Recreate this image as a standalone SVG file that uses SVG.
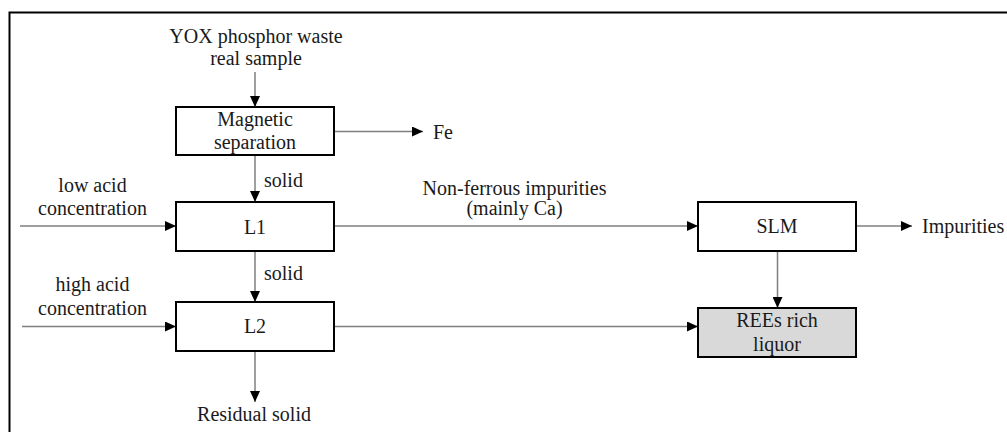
<svg xmlns="http://www.w3.org/2000/svg" width="1007" height="432" viewBox="0 0 1007 432">
<style>
text{font-family:'Liberation Serif','Times New Roman',serif;font-size:20px;fill:#1a1a1a}
.c{text-anchor:middle}
.box{fill:#fff;stroke:#000;stroke-width:2}
.con{stroke:#7f7f7f;stroke-width:1.5;fill:none;marker-end:url(#ah)}
</style>
<defs>
<marker id="ah" markerWidth="12" markerHeight="10" refX="11" refY="5" orient="auto" markerUnits="userSpaceOnUse">
<path d="M0,0 L11,5 L0,10 Z" fill="#000"/>
</marker>
</defs>
<rect x="0" y="0" width="1007" height="432" fill="#fff"/>
<path d="M9.5,440 V12.5 H1010" fill="none" stroke="#000" stroke-width="2"/>
<g id="connectors">
<line class="con" x1="255" y1="72" x2="255" y2="107"/>
<line class="con" x1="334" y1="131.5" x2="423" y2="131.5"/>
<line class="con" x1="255" y1="155" x2="255" y2="202"/>
<line class="con" x1="20" y1="226" x2="176" y2="226"/>
<line class="con" x1="334" y1="226" x2="698" y2="226"/>
<line class="con" x1="255" y1="251" x2="255" y2="302"/>
<line class="con" x1="22" y1="326.5" x2="176" y2="326.5"/>
<line class="con" x1="334" y1="326.5" x2="698" y2="326.5"/>
<line class="con" x1="255" y1="351" x2="255" y2="402"/>
<line class="con" x1="856" y1="226" x2="912" y2="226"/>
<line class="con" x1="777.5" y1="251" x2="777.5" y2="308"/>
</g>
<g id="input">
<text class="c" x="256" y="43">YOX phosphor waste</text>
<text class="c" x="256" y="65">real sample</text>
</g>
<g id="magnetic">
<rect class="box" x="176" y="107" width="158" height="48"/>
<text class="c" x="255" y="126">Magnetic</text>
<text class="c" x="255" y="149">separation</text>
</g>
<g id="fe"><text x="433" y="139">Fe</text></g>
<g id="solid1"><text x="264" y="187">solid</text></g>
<g id="lowacid">
<text class="c" x="92.5" y="192">low acid</text>
<text class="c" x="92.5" y="215">concentration</text>
</g>
<g id="L1">
<rect class="box" x="176" y="202" width="158" height="49"/>
<text class="c" x="255" y="234">L1</text>
</g>
<g id="nonferrous">
<text class="c" x="514.5" y="195">Non-ferrous impurities</text>
<text class="c" x="514.5" y="215">(mainly Ca)</text>
</g>
<g id="solid2"><text x="264" y="280">solid</text></g>
<g id="highacid">
<text class="c" x="92.5" y="291">high acid</text>
<text class="c" x="92.5" y="315">concentration</text>
</g>
<g id="L2">
<rect class="box" x="176" y="302" width="158" height="49"/>
<text class="c" x="255" y="333">L2</text>
</g>
<g id="residual"><text class="c" x="254" y="421">Residual solid</text></g>
<g id="SLM">
<rect class="box" x="698" y="202" width="158" height="49"/>
<text class="c" x="777" y="233">SLM</text>
</g>
<g id="impurities"><text x="922" y="233">Impurities</text></g>
<g id="REEs">
<rect class="box" x="698" y="308" width="158" height="49" style="fill:#d9d9d9"/>
<text class="c" x="777" y="327">REEs rich</text>
<text class="c" x="777" y="351">liquor</text>
</g>
</svg>
